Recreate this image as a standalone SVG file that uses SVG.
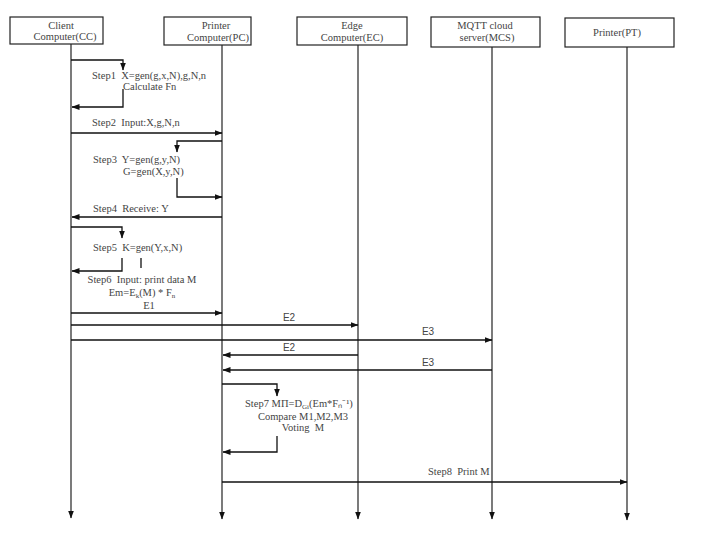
<svg xmlns="http://www.w3.org/2000/svg" width="714" height="533" viewBox="0 0 714 533">
<style>
  .box { fill: #fff; stroke: #222; stroke-width: 1.2; }
  .life { stroke: #222; stroke-width: 1.2; fill: none; }
  .msg { stroke: #111; stroke-width: 1.3; fill: none; }
  text { font-family: "Liberation Serif", "Times New Roman", serif; font-size: 10.5px; fill: #444; }
  .c { text-anchor: middle; }
  .sans { font-family: "Liberation Sans", Arial, sans-serif; font-size: 10px; }
</style>
<defs>
  <marker id="ah" markerWidth="8" markerHeight="6" refX="7.5" refY="3" orient="auto" markerUnits="userSpaceOnUse">
    <path d="M0,0 L8,3 L0,6 Z" fill="#111"/>
  </marker>
</defs>
<rect width="714" height="533" fill="#fff"/>

<g id="node-cc">
  <rect class="box" x="10" y="17" width="93" height="27"/>
  <text class="c" x="61" y="29">Client</text>
  <text class="c" x="65" y="40">Computer(CC)</text>
</g>
<g id="node-pc">
  <rect class="box" x="164" y="17" width="87" height="28"/>
  <text class="c" x="216" y="29">Printer</text>
  <text class="c" x="218" y="41">Computer(PC)</text>
</g>
<g id="node-ec">
  <rect class="box" x="297" y="17" width="110" height="28"/>
  <text class="c" x="352" y="29">Edge</text>
  <text class="c" x="352" y="41">Computer(EC)</text>
</g>
<g id="node-mcs">
  <rect class="box" x="431" y="17" width="109" height="30"/>
  <text class="c" x="485" y="29">MQTT cloud</text>
  <text class="c" x="487" y="41">server(MCS)</text>
</g>
<g id="node-pt">
  <rect class="box" x="565" y="18" width="109" height="29"/>
  <text class="c" x="617" y="36">Printer(PT)</text>
</g>

<g id="connectors">
  <path class="life" d="M71,44 V518" marker-end="url(#ah)"/>
  <path class="life" d="M222,45 V519" marker-end="url(#ah)"/>
  <path class="life" d="M358,45 V519" marker-end="url(#ah)"/>
  <path class="life" d="M492,47 V519" marker-end="url(#ah)"/>
  <path class="life" d="M627,47 V520" marker-end="url(#ah)"/>

  <path class="msg" d="M71,60 H123 V70" marker-end="url(#ah)"/>
  <path class="msg" d="M123,89 V107 H72" marker-end="url(#ah)"/>
  <path class="msg" d="M71,133 H222" marker-end="url(#ah)"/>
  <path class="msg" d="M222,141 H177 V152" marker-end="url(#ah)"/>
  <path class="msg" d="M177,178 V197 H222" marker-end="url(#ah)"/>
  <path class="msg" d="M222,217 H72" marker-end="url(#ah)"/>
  <path class="msg" d="M71,227 H122 V238" marker-end="url(#ah)"/>
  <path class="msg" d="M122,258 V271 H72" marker-end="url(#ah)"/>
  <path class="msg" d="M141,258 V268"/>
  <path class="msg" d="M71,313 H222" marker-end="url(#ah)"/>
  <path class="msg" d="M71,325 H358" marker-end="url(#ah)"/>
  <path class="msg" d="M71,340 H492" marker-end="url(#ah)"/>
  <path class="msg" d="M358,355 H223" marker-end="url(#ah)"/>
  <path class="msg" d="M492,370 H223" marker-end="url(#ah)"/>
  <path class="msg" d="M222,384 H277 V396" marker-end="url(#ah)"/>
  <path class="msg" d="M277,436 V452 H223" marker-end="url(#ah)"/>
  <path class="msg" d="M222,482 H627" marker-end="url(#ah)"/>
</g>

<g id="labels">
  <text x="92" y="79" xml:space="preserve">Step1  X=gen(g,x,N),g,N,n</text>
  <text x="123" y="90">Calculate Fn</text>
  <text x="92" y="126" xml:space="preserve">Step2  Input:X,g,N,n</text>
  <text x="93" y="163" xml:space="preserve">Step3  Y=gen(g,y,N)</text>
  <text x="123" y="175">G=gen(X,y,N)</text>
  <text x="93" y="212" xml:space="preserve">Step4  Receive: Y</text>
  <text x="93" y="251" xml:space="preserve">Step5  K=gen(Y,x,N)</text>
  <text class="c" x="142" y="283" xml:space="preserve">Step6  Input: print data M</text>
  <text class="c" x="142" y="296">Em=E<tspan font-size="7" dy="2">k</tspan><tspan dy="-2">(M) * F</tspan><tspan font-size="7" dy="2">n</tspan></text>
  <text class="c" x="149" y="309">E1</text>
  <text class="c sans" x="289" y="321">E2</text>
  <text class="c sans" x="428" y="335">E3</text>
  <text class="c sans" x="289" y="351">E2</text>
  <text class="c sans" x="428" y="366">E3</text>
  <text x="245" y="407">Step7 MΠ=D<tspan font-size="7" dy="1.5">Gi</tspan><tspan dy="-1.5">(Em*Fₙ⁻¹)</tspan></text>
  <text class="c" x="303" y="420">Compare M1,M2,M3</text>
  <text class="c" x="303" y="431" xml:space="preserve">Voting  M</text>
  <text x="428" y="475" xml:space="preserve">Step8  Print M</text>
</g>
</svg>
